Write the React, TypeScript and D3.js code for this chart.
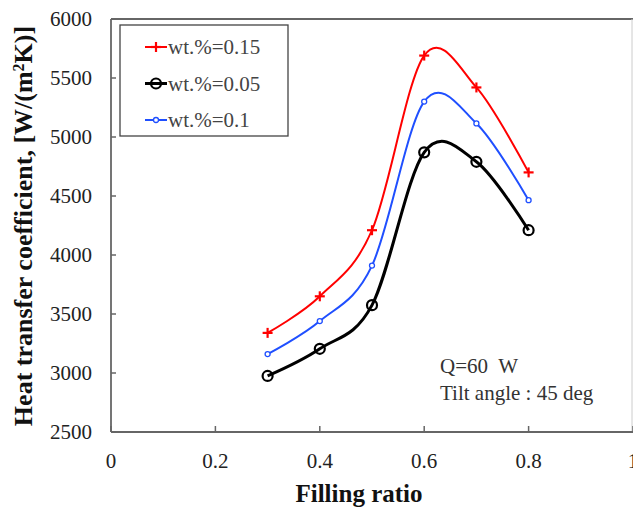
import React from "react";
import * as d3 from "d3";

const fillingRatio = [0.3, 0.4, 0.5, 0.6, 0.7, 0.8];
const wt015 = [3340, 3650, 4210, 5690, 5420, 4700];
const wt005 = [2975, 3205, 3575, 4870, 4790, 4210];
const wt01 = [3160, 3440, 3910, 5300, 5115, 4465];
const xTicks = [0, 0.2, 0.4, 0.6, 0.8, 1];
const yTicks = [2500, 3000, 3500, 4000, 4500, 5000, 5500, 6000];
const seriesNames = ["wt.%=0.15", "wt.%=0.05", "wt.%=0.1"];

const W = 633, H = 508;
const L = 111, R = 633, T = 19, B = 432;
const FONT = "'Liberation Serif', 'Times New Roman', serif";

export default function App() {
  const x = d3.scaleLinear().domain([0, 1]).range([L, R]);
  const y = d3.scaleLinear().domain([2500, 6000]).range([B, T]);
  const line = d3
    .line<number>()
    .x((_, i) => x(fillingRatio[i]))
    .y((d) => y(d))
    .curve(d3.curveCardinal.tension(0));

  const series = [
    { name: seriesNames[0], data: wt015, color: "#ff0000", width: 2, marker: "plus" },
    { name: seriesNames[1], data: wt005, color: "#000000", width: 3, marker: "bigcircle" },
    { name: seriesNames[2], data: wt01, color: "#1f4fff", width: 2, marker: "smallcircle" },
  ];

  const marker = (m: string, cx: number, cy: number, color: string, key: string) => {
    if (m === "plus")
      return (
        <g key={key} stroke={color} strokeWidth={2.2}>
          <line x1={cx - 5} x2={cx + 5} y1={cy} y2={cy} />
          <line x1={cx} x2={cx} y1={cy - 5} y2={cy + 5} />
        </g>
      );
    if (m === "bigcircle")
      return <circle key={key} cx={cx} cy={cy} r={5} fill="none" stroke={color} strokeWidth={2.2} />;
    return <circle key={key} cx={cx} cy={cy} r={2.5} fill="white" stroke={color} strokeWidth={1.3} />;
  };

  const drawOrder = [2, 0, 1];

  return (
    <svg width={W} height={H} style={{ position: "absolute", left: 0, top: 0, background: "white" }}>
      <rect x={0} y={0} width={W} height={H} fill="white" />
      <line x1={L} x2={R} y1={T} y2={T} stroke="#666" strokeWidth={1.8} />
      <line x1={R - 1} x2={R - 1} y1={T} y2={B} stroke="#ccc" strokeWidth={1} />
      <line x1={L} x2={L} y1={T} y2={B} stroke="#666" strokeWidth={1.8} />
      <line x1={L} x2={R} y1={B} y2={B} stroke="#666" strokeWidth={1.8} />
      {yTicks.map((t) => (
        <g key={"y" + t}>
          <line x1={L} x2={L + 5} y1={y(t)} y2={y(t)} stroke="#666" strokeWidth={1.5} />
          <text x={92} y={y(t)} dy="0.35em" textAnchor="end" fontFamily={FONT} fontSize={21} fill="#222">
            {t}
          </text>
        </g>
      ))}
      {xTicks.map((t) => (
        <g key={"x" + t}>
          <line x1={x(t)} x2={x(t)} y1={B} y2={B - 6} stroke="#666" strokeWidth={1.5} />
          <text x={x(t)} y={468} textAnchor="middle" fontFamily={FONT} fontSize={21} fill="#222">
            {t}
          </text>
        </g>
      ))}
      <text x={359} y={502} textAnchor="middle" fontFamily={FONT} fontSize={25} fontWeight="bold" fill="#111">
        Filling ratio
      </text>
      <text
        transform={`translate(32, 226) rotate(-90)`}
        textAnchor="middle"
        fontFamily={FONT}
        fontSize={26}
        fontWeight="bold"
        fill="#111"
      >
        Heat transfer coefficient, [W/(m
        <tspan baselineShift="super" fontSize={16}>2</tspan>
        K)]
      </text>
      {drawOrder.map((si) => {
        const s = series[si];
        return (
          <g key={s.name}>
            <path d={line(s.data) || ""} fill="none" stroke={s.color} strokeWidth={s.width} />
            {s.data.map((v, i) => marker(s.marker, x(fillingRatio[i]), y(v), s.color, s.name + i))}
          </g>
        );
      })}
      <rect x={120} y={25} width={168} height={111} fill="white" stroke="#444" strokeWidth={1.3} />
      {series.map((s, i) => {
        const cy = 47 + i * 36.5;
        return (
          <g key={"leg" + i}>
            <line x1={145} x2={167} y1={cy} y2={cy} stroke={s.color} strokeWidth={s.width} />
            {marker(s.marker, 156, cy, s.color, "lm" + i)}
            <text x={168} y={cy} dy="0.35em" fontFamily={FONT} fontSize={21} fill="#444">
              {s.name}
            </text>
          </g>
        );
      })}
      <text x={440} y={373} fontFamily={FONT} fontSize={21} fill="#333" xmlSpace="preserve">
        Q=60  W
      </text>
      <text x={440} y={400} fontFamily={FONT} fontSize={21} fill="#333">
        Tilt angle : 45 deg
      </text>
    </svg>
  );
}
